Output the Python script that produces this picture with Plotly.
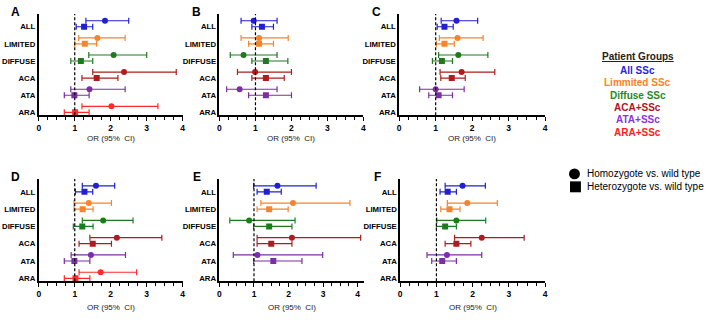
import plotly.graph_objects as go

categories = ["ALL", "LIMITED", "DIFFUSE", "ACA", "ATA", "ARA"]
group_colors = ["#2020d0", "#f7842c", "#1f7a1f", "#b01c1c", "#7b2ea6", "#ff2a2a"]
legend_groups = ["All SSc", "Limmited SSc", "Diffuse SSc", "ACA+SSc", "ATA+SSc", "ARA+SSc"]
legend_colors = ["#2424e6", "#ff7f27", "#1e8c1e", "#b0141e", "#8a35e0", "#ff2020"]
x_ticks = [0, 1, 2, 3, 4]

# Panel A
A_hom = [1.84, 1.63, 2.08, 2.37, 1.41, 2.02]
A_hom_lo = [1.31, 1.11, 1.39, 1.50, 0.89, 1.20]
A_hom_hi = [2.50, 2.40, 3.00, 3.82, 2.40, 3.31]
A_het = [1.26, 1.28, 1.17, 1.61, 0.99, 1.01]
A_het_lo = [1.04, 1.00, 0.89, 1.20, 0.71, 0.71]
A_het_hi = [1.50, 1.61, 1.50, 2.20, 1.40, 1.40]
# Panel B
B_hom = [0.95, 1.10, 0.67, 0.99, 0.56, None]
B_hom_lo = [0.60, 0.60, 0.30, 0.50, 0.20, None]
B_hom_hi = [1.60, 1.91, 1.60, 2.00, 1.60, None]
B_het = [1.18, 1.10, 1.29, 1.29, 1.29, None]
B_het_lo = [0.90, 0.81, 0.90, 0.90, 0.81, None]
B_het_hi = [1.50, 1.50, 1.90, 1.80, 2.00, None]
# Panel C
C_hom = [1.57, 1.60, 1.62, 1.71, 1.00, None]
C_hom_lo = [1.15, 1.10, 1.08, 1.12, 0.56, None]
C_hom_hi = [2.15, 2.30, 2.43, 2.62, 1.78, None]
C_het = [1.24, 1.24, 1.17, 1.44, 1.08, None]
C_het_lo = [1.04, 1.02, 0.91, 1.14, 0.81, None]
C_het_hi = [1.48, 1.51, 1.46, 1.81, 1.46, None]
# Panel D
D_hom = [1.59, 1.39, 1.79, 2.17, 1.45, 1.72]
D_hom_lo = [1.21, 0.98, 1.21, 1.42, 0.90, 1.12]
D_hom_hi = [2.11, 2.02, 2.62, 3.42, 2.41, 2.72]
D_het = [1.27, 1.22, 1.21, 1.50, 0.99, 1.02]
D_het_lo = [1.02, 0.98, 0.96, 1.12, 0.71, 0.71]
D_het_hi = [1.50, 1.51, 1.51, 2.02, 1.42, 1.42]
# Panel E
E_hom = [1.68, 2.13, 0.86, 2.10, 1.10, None]
E_hom_lo = [0.99, 1.20, 0.30, 1.09, 0.40, None]
E_hom_hi = [2.80, 3.78, 2.19, 4.09, 2.99, None]
E_het = [1.37, 1.44, 1.44, 1.50, 1.56, None]
E_het_lo = [1.09, 1.09, 0.99, 1.09, 0.99, None]
E_het_hi = [1.79, 1.99, 2.10, 2.10, 2.39, None]
# Panel F
F_hom = [1.72, 1.85, 1.55, 2.25, 1.29, None]
F_hom_lo = [1.24, 1.30, 1.01, 1.50, 0.74, None]
F_hom_hi = [2.35, 2.68, 2.36, 3.42, 2.25, None]
F_het = [1.31, 1.36, 1.24, 1.55, 1.16, None]
F_het_lo = [1.10, 1.12, 1.00, 1.24, 0.87, None]
F_het_hi = [1.55, 1.65, 1.55, 1.95, 1.55, None]

W, H = 714, 320
FONT = "Liberation Sans, Arial, sans-serif"

panels = [
    ("A", (37, 182), (14, 116), 4.0, (A_hom, A_hom_lo, A_hom_hi, A_het, A_het_lo, A_het_hi)),
    ("B", (219, 364), (14, 116), 4.0, (B_hom, B_hom_lo, B_hom_hi, B_het, B_het_lo, B_het_hi)),
    ("C", (400, 547), (14, 116), 4.0, (C_hom, C_hom_lo, C_hom_hi, C_het, C_het_lo, C_het_hi)),
    ("D", (37, 182), (180, 283), 4.0, (D_hom, D_hom_lo, D_hom_hi, D_het, D_het_lo, D_het_hi)),
    ("E", (219, 365), (180, 283), 4.2, (E_hom, E_hom_lo, E_hom_hi, E_het, E_het_lo, E_het_hi)),
    ("F", (401, 547), (180, 283), 4.0, (F_hom, F_hom_lo, F_hom_hi, F_het, F_het_lo, F_het_hi)),
]

CIRCLE_OFFSET = 0.35
fig = go.Figure()
layout = {}
shapes = []
annotations = []

for n, (letter, (px0, px1), (py0, py1), xmax, data) in enumerate(panels, start=1):
    sfx = "" if n == 1 else str(n)
    xa, ya = "x" + sfx, "y" + sfx
    layout["xaxis" + sfx] = dict(
        domain=[px0 / W, px1 / W], anchor=ya, range=[0, xmax],
        tickvals=x_ticks, ticks="outside", ticklen=4, tickwidth=1.3, tickcolor="black",
        minor=dict(dtick=0.25, ticks="outside", ticklen=2.5, tickwidth=1, tickcolor="black", showgrid=False),
        showline=True, linecolor="black", linewidth=1.6, showgrid=False, zeroline=False,
        tickfont=dict(family=FONT, size=8.5, color="black", weight="bold"), fixedrange=True,
    )
    layout["yaxis" + sfx] = dict(
        domain=[1 - py1 / H, 1 - py0 / H], anchor=xa, range=[5.17, -0.75],
        tickvals=list(range(len(categories))), ticktext=categories, ticks="",
        showline=True, linecolor="black", linewidth=1.6, showgrid=False, zeroline=False,
        tickfont=dict(family=FONT, size=7.8, color="black", weight="bold"), fixedrange=True,
    )
    shapes.append(dict(type="line", xref=xa, yref=ya + " domain", x0=1, x1=1, y0=0, y1=1,
                       line=dict(color="black", width=1.2, dash="3px,2px")))
    hom, hom_lo, hom_hi, het, het_lo, het_hi = data
    for i, cat in enumerate(categories):
        col = group_colors[i]
        if hom[i] is not None:
            fig.add_trace(go.Scatter(
                x=[hom[i]], y=[i - CIRCLE_OFFSET], mode="markers", xaxis=xa, yaxis=ya,
                marker=dict(symbol="circle", size=6, color=col),
                error_x=dict(type="data", symmetric=False, array=[hom_hi[i] - hom[i]],
                             arrayminus=[hom[i] - hom_lo[i]], color=col, thickness=1.2, width=3),
                showlegend=False, hoverinfo="skip"))
        if het[i] is not None:
            fig.add_trace(go.Scatter(
                x=[het[i]], y=[i], mode="markers", xaxis=xa, yaxis=ya,
                marker=dict(symbol="square", size=6, color=col),
                error_x=dict(type="data", symmetric=False, array=[het_hi[i] - het[i]],
                             arrayminus=[het[i] - het_lo[i]], color=col, thickness=1.2, width=3),
                showlegend=False, hoverinfo="skip"))
    # panel letter
    annotations.append(dict(text=letter, xref="paper", yref="paper",
                            x=(px0 - 23) / W, y=1 - (py0 - 2) / H, xanchor="center", yanchor="middle",
                            showarrow=False, font=dict(family=FONT, size=12, color="black", weight="bold")))
    # axis title
    ty = 139 if py0 < 100 else 309
    annotations.append(dict(text="OR (95%  CI)", xref="paper", yref="paper",
                            x=((px0 + px1) / 2) / W, y=1 - ty / H, xanchor="center", yanchor="middle",
                            showarrow=False, font=dict(family=FONT, size=8, color="#222")))

# legend of groups
annotations.append(dict(text="<u>Patient Groups</u>", xref="paper", yref="paper", x=640 / W, y=1 - 57 / H,
                        xanchor="center", yanchor="middle", showarrow=False,
                        font=dict(family=FONT, size=10, color="#222", weight="bold")))
for k, (g, c) in enumerate(zip(legend_groups, legend_colors)):
    annotations.append(dict(text=g, xref="paper", yref="paper", x=640 / W, y=1 - (71 + 12.4 * k) / H,
                            xanchor="center", yanchor="middle", showarrow=False,
                            font=dict(family=FONT, size=10, color=c, weight="bold")))

# marker-shape legend
shapes.append(dict(type="circle", xref="paper", yref="paper", x0=571 / W, x1=582 / W,
                   y0=1 - 180.5 / H, y1=1 - 169.5 / H, fillcolor="black", line=dict(width=0)))
shapes.append(dict(type="rect", xref="paper", yref="paper", x0=572 / W, x1=583 / W,
                   y0=1 - 193.5 / H, y1=1 - 182.5 / H, fillcolor="black", line=dict(width=0)))
annotations.append(dict(text="Homozygote vs. wild type", xref="paper", yref="paper", x=587 / W, y=1 - 175 / H,
                        xanchor="left", yanchor="middle", showarrow=False,
                        font=dict(family=FONT, size=10, color="black")))
annotations.append(dict(text="Heterozygote vs. wild type", xref="paper", yref="paper", x=587 / W, y=1 - 188 / H,
                        xanchor="left", yanchor="middle", showarrow=False,
                        font=dict(family=FONT, size=10, color="black")))

fig.update_layout(
    width=W, height=H, margin=dict(l=0, r=0, t=0, b=0),
    paper_bgcolor="white", plot_bgcolor="white", showlegend=False,
    shapes=shapes, annotations=annotations, **layout,
)
fig.write_html("out.html", config={"displayModeBar": False},
               post_script="document.body.style.margin='0';document.body.style.overflow='hidden';")
